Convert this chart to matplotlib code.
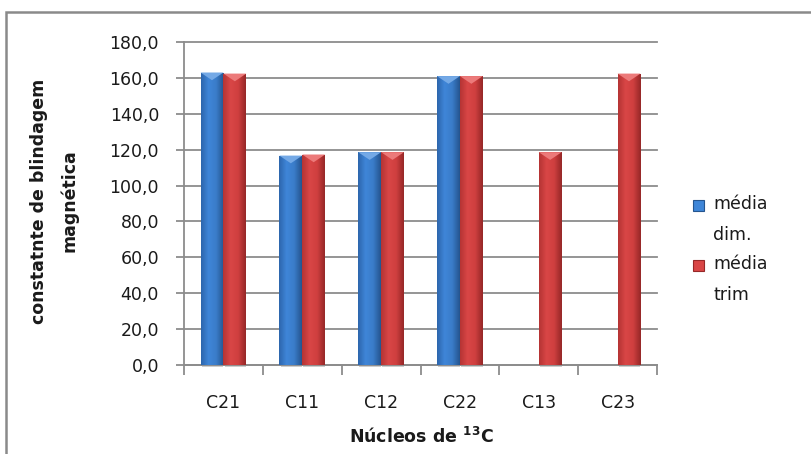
import numpy as np
import matplotlib
matplotlib.use("Agg")
import matplotlib.pyplot as plt
from matplotlib.colors import LinearSegmentedColormap
from matplotlib.patches import Polygon, Rectangle

plt.rcParams['font.family'] = ['DejaVu Sans']
plt.rcParams['mathtext.fontset'] = 'dejavusans'

categories = ["C21", "C11", "C12", "C22", "C13", "C23"]
media_dim = [163.0, 116.7, 118.6, 161.0, np.nan, np.nan]
media_trim = [162.4, 117.3, 118.6, 161.0, 118.6, 162.4]
series_labels = ["média\ndim.", "média\ntrim"]
y_ticks = [0, 20, 40, 60, 80, 100, 120, 140, 160, 180]

grid_col = "#8c8c8c"
text_col = "#1a1a1a"
fs = 12.5

fig = plt.figure(figsize=(8.11, 4.54), dpi=100)
ax = fig.add_axes([184 / 811, 1 - 365 / 454, (657 - 184) / 811, (365 - 42) / 454])

x = np.arange(len(categories))
w = 0.29

styles = [
    dict(cols=["#2d66ad", "#3f86d8", "#3a7cc9", "#25558f"], top="#74a9e6"),
    dict(cols=["#b53434", "#d94646", "#cf3f3f", "#962828"], top="#ec7a7a"),
]

ax.set_xlim(-0.5, len(categories) - 0.5)
ax.set_ylim(0, 180)

grad = np.linspace(0, 1, 64).reshape(1, -1)
bevel = 4.3
for k, (vals, st) in enumerate(zip([media_dim, media_trim], styles)):
    cmap = LinearSegmentedColormap.from_list(f"s{k}", st["cols"])
    bars = ax.bar(x + (k - 0.5) * w, vals, width=w, color=st["cols"][1],
                  edgecolor="none", zorder=3)
    for b, v in zip(bars, vals):
        if np.isnan(v):
            continue
        x0, bw, h = b.get_x(), b.get_width(), b.get_height()
        im = ax.imshow(grad, cmap=cmap, extent=(x0, x0 + bw, 0, h),
                       aspect="auto", zorder=4)
        im.set_clip_path(b)
        ax.add_patch(Polygon([(x0, h), (x0 + bw, h), (x0 + bw / 2, h - bevel)],
                             closed=True, facecolor=st["top"], edgecolor="none",
                             zorder=5))
        ax.add_patch(Rectangle((x0 + bw * 0.05, -1.2), bw * 0.95, 1.2,
                               facecolor="#b8b8b8", edgecolor="none", zorder=2,
                               clip_on=False, alpha=0.7))

ax.set_xlim(-0.5, len(categories) - 0.5)
ax.set_ylim(0, 180)

ax.set_yticks(y_ticks)
ax.set_yticklabels([f"{t:.1f}".replace(".", ",") for t in y_ticks])
ax.set_xticks(x)
ax.set_xticklabels(categories)
ax.set_xticks(np.arange(-0.5, len(categories)), minor=True)
ax.tick_params(axis="x", which="major", length=0, pad=21, labelsize=fs,
               colors=text_col)
ax.tick_params(axis="x", which="minor", length=7, width=1.3, color=grid_col)
ax.tick_params(axis="y", length=6, width=1.3, color=grid_col, pad=12,
               labelsize=fs, labelcolor=text_col)

ax.grid(axis="y", color=grid_col, linewidth=1.3, zorder=0)
for gl in ax.get_ygridlines():
    gl.set_clip_on(False)
ax.set_axisbelow(True)
for s in ["top", "right"]:
    ax.spines[s].set_visible(False)
for s in ["left", "bottom"]:
    ax.spines[s].set_color(grid_col)
    ax.spines[s].set_linewidth(1.3)

fig.text(54 / 811, 1 - 201 / 454, "constatnte de blindagem\nmagnética",
         rotation=90, ha="center", va="center", fontsize=fs,
         fontweight="bold", color=text_col, linespacing=1.85)
fig.text(421 / 811, 1 - 437 / 454, "Núcleos de $^{\\mathbf{13}}$C", ha="center",
         va="center", fontsize=fs, fontweight="bold", color=text_col)

# legend drawn by hand so the swatch sits beside the first line of each label
leg_rows = [205, 265]
for lab, st, yc in zip(series_labels, styles, leg_rows):
    fig.patches.append(Rectangle((693 / 811, 1 - (yc + 6) / 454), 11 / 811,
                                 11 / 454, transform=fig.transFigure,
                                 facecolor=st["cols"][1], edgecolor=st["cols"][3],
                                 linewidth=0.8))
    fig.text(713 / 811, 1 - (yc - 10) / 454, lab, ha="left", va="top",
             fontsize=fs, color=text_col, linespacing=1.95)

# outer chart frame
fig.patches.append(Rectangle((6 / 811, -0.05), 1.1, 1 - 12 / 454 + 0.05,
                             transform=fig.transFigure, facecolor="none",
                             edgecolor="#8a8a8a", linewidth=1.8, clip_on=False))

fig.savefig("out.png", dpi=100)
